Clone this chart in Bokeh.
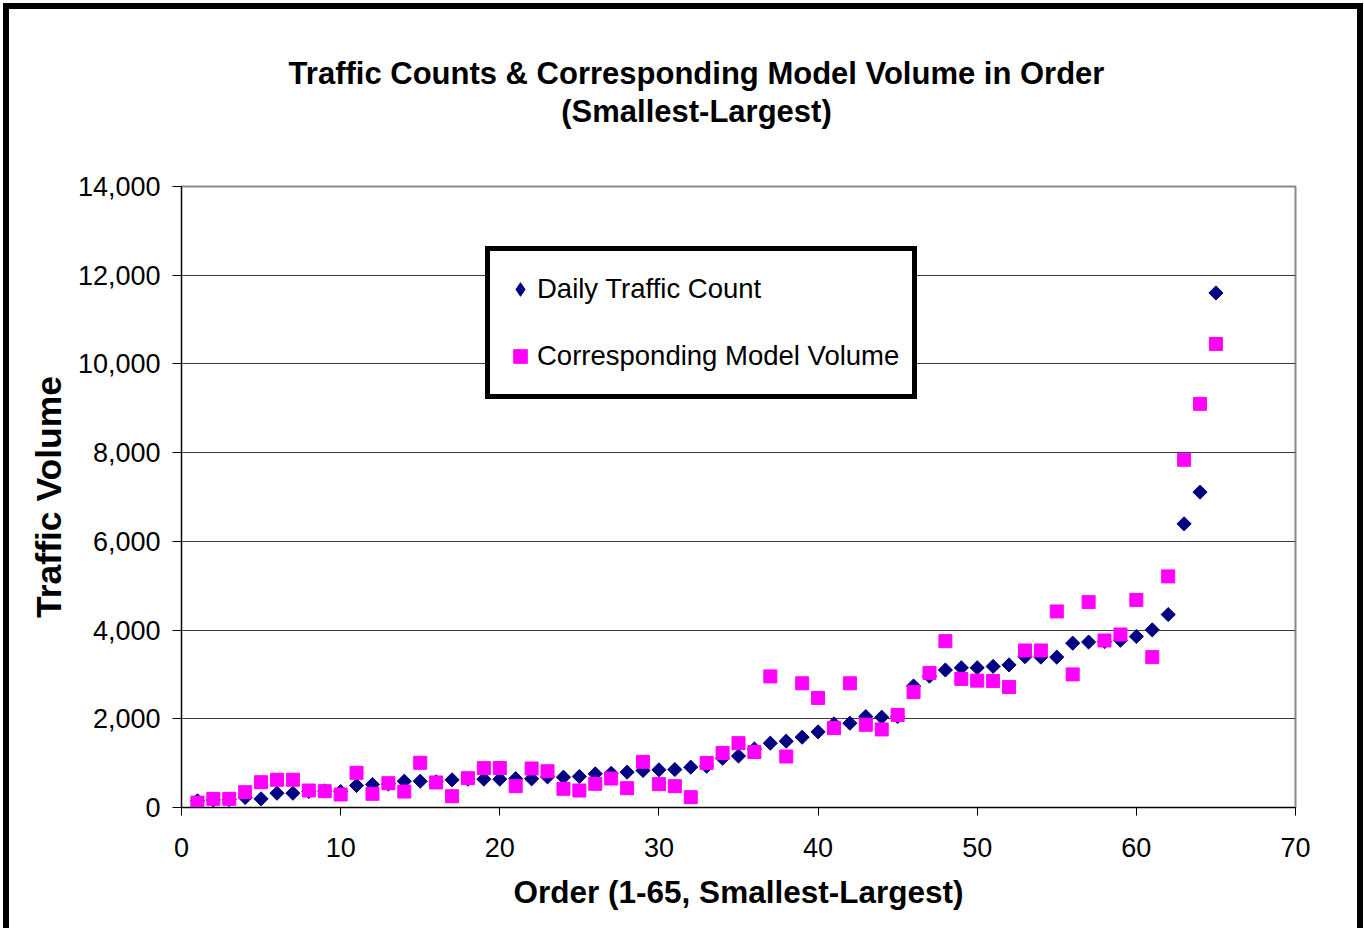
import math
from bokeh.plotting import figure
from bokeh.layouts import column
from bokeh.models import (Range1d, FixedTicker, NumeralTickFormatter, Legend,
                          LegendItem)
from bokeh.core.properties import value
from bokeh.embed import file_html
from bokeh.resources import INLINE

# ---------------- data ----------------
order = list(range(1, 66))

daily_traffic_count = [
    150, 170, 180, 225, 195, 322, 322, 360, 375, 360,
    496, 518, 530, 593, 593, 580, 624, 640, 639, 639,
    650, 646, 690, 684, 699, 759, 770, 796, 834, 849,
    856, 909, 930, 1110, 1160, 1320, 1450, 1495, 1585, 1705,
    1885, 1900, 2050, 2035, 2050, 2740, 2960, 3100, 3150, 3150,
    3180, 3215, 3400, 3390, 3390, 3705, 3730, 3740, 3770, 3855,
    4005, 4350, 6395, 7110, 11600,
]

model_volume = [
    110, 195, 195, 345, 570, 625, 625, 383, 368, 293,
    782, 308, 548, 360, 1008, 564, 255, 661, 887, 890,
    481, 879, 818, 421, 383, 533, 654, 436, 1030, 526,
    481, 233, 1005, 1230, 1450, 1250, 2955, 1150, 2800, 2470,
    1790, 2800, 1865, 1760, 2085, 2600, 3035, 3750, 2900, 2860,
    2850, 2715, 3540, 3540, 4420, 3000, 4630, 3765, 3900, 4680,
    3390, 5210, 7840, 9100, 10450,
]

x_ticks = [0, 10, 20, 30, 40, 50, 60, 70]
y_ticks = [0, 2000, 4000, 6000, 8000, 10000, 12000, 14000]

title_lines = ["Traffic Counts & Corresponding Model Volume in Order",
               "(Smallest-Largest)"]
x_label = "Order (1-65, Smallest-Largest)"
y_label = "Traffic Volume"
series_names = ["Daily Traffic Count", "Corresponding Model Volume"]

# ---------------- layout constants ----------------
FONT = "Liberation Sans"
W = 1364
TITLE_H = 150
MAIN_H = 928 - TITLE_H
FRAME_L, FRAME_R = 181, 1295
NAVY = "#000080"
MAGENTA = "#FF00FF"

# ---------------- title strip (top of the chart) ----------------
# its frame is aligned with the chart frame by the column layout,
# so its x range is expressed in page pixels of that frame
tf = figure(width=W, height=TITLE_H, output_backend="svg", toolbar_location=None,
            title=None,
            x_range=Range1d(FRAME_L, FRAME_R), y_range=Range1d(TITLE_H, 0),
            x_axis_type=None, y_axis_type=None,
            min_border=0, min_border_left=0, min_border_right=0,
            min_border_top=0, min_border_bottom=0,
            outline_line_color=None, background_fill_alpha=0,
            border_fill_alpha=0)
tf.grid.visible = False
tf.styles = {"box-shadow": "inset 3px 3px 0 0 #ffffff, inset -1px 0 0 0 #ffffff, "
                           "inset 9px 9px 0 0 #000000, inset -7px 0 0 0 #000000"}
tf.text(x=[696, 696], y=[73, 111], text=title_lines,
        text_align="center", text_baseline="alphabetic",
        text_font=value(FONT), text_font_size=value("31px"),
        text_font_style="bold", text_color="black")

# ---------------- main chart ----------------
p = figure(width=W, height=MAIN_H, output_backend="svg", toolbar_location=None,
           title=None,
           x_range=Range1d(0, 70), y_range=Range1d(0, 14000),
           min_border_left=FRAME_L, min_border_right=W - FRAME_R,
           min_border_top=186 - TITLE_H, min_border_bottom=MAIN_H - (186 - TITLE_H) - 621,
           background_fill_color="white", border_fill_alpha=0)
p.styles = {"box-shadow": "inset 3px 0 0 0 #ffffff, inset -1px 0 0 0 #ffffff, "
                          "inset 9px 0 0 0 #000000, inset -7px 0 0 0 #000000"}

p.outline_line_color = "#888888"
p.outline_line_width = 2

p.xaxis.ticker = FixedTicker(ticks=x_ticks)
p.yaxis.ticker = FixedTicker(ticks=y_ticks)
p.yaxis.formatter = NumeralTickFormatter(format="0,0")
for ax in (p.xaxis[0], p.yaxis[0]):
    ax.axis_line_color = "black"
    ax.axis_line_width = 1
    ax.major_tick_line_color = "black"
    ax.major_tick_in = 0
    ax.minor_tick_line_color = None
    ax.major_label_text_font = FONT
    ax.major_label_text_font_size = "27px"
    ax.major_label_text_color = "black"
    ax.axis_label_text_font = FONT
    ax.axis_label_text_font_style = "bold"
    ax.axis_label_text_color = "black"

p.xaxis.major_tick_out = 8
p.yaxis.major_tick_out = 9
p.xaxis.major_label_standoff = 22
p.yaxis.major_label_standoff = 12
p.xaxis.axis_label = x_label
p.yaxis.axis_label = y_label
p.xaxis.axis_label_text_font_size = "31.5px"
p.yaxis.axis_label_text_font_size = "35.5px"
p.xaxis.axis_label_standoff = 14
p.yaxis.axis_label_standoff = 6

p.xgrid.visible = False
p.ygrid.ticker = FixedTicker(ticks=y_ticks)
p.ygrid.grid_line_color = "#3c3c3c"
p.ygrid.grid_line_width = 1

# legend key for the diamond series: a plain diamond drawn under the first
# point (hidden by it); legend swatches are never rotated
r1_key = p.scatter(order[:1], daily_traffic_count[:1], marker="diamond",
                   size=12, fill_color=NAVY, line_color=NAVY)
# data markers: diamonds (rotated squares) and squares
r1 = p.scatter(order, daily_traffic_count, marker="square", size=10,
               angle=math.pi / 4, fill_color=NAVY, line_color=NAVY)
r2 = p.scatter(order, model_volume, marker="square", size=13,
               fill_color=MAGENTA, line_color=MAGENTA)

legend = Legend(items=[LegendItem(label=series_names[0], renderers=[r1_key]),
                       LegendItem(label=series_names[1], renderers=[r2])],
                location=(304, 408), orientation="vertical",
                margin=0, padding=13, spacing=17,
                glyph_width=34, glyph_height=50, label_height=50,
                label_standoff=0,
                label_text_font=FONT, label_text_font_size="27.5px",
                label_text_color="black", label_text_baseline="middle",
                border_line_color="black", border_line_width=5,
                border_line_alpha=1.0,
                background_fill_color="white", background_fill_alpha=1.0)
p.add_layout(legend)

layout = column(tf, p, spacing=0)
open("out.html", "w").write(file_html(layout, INLINE))
